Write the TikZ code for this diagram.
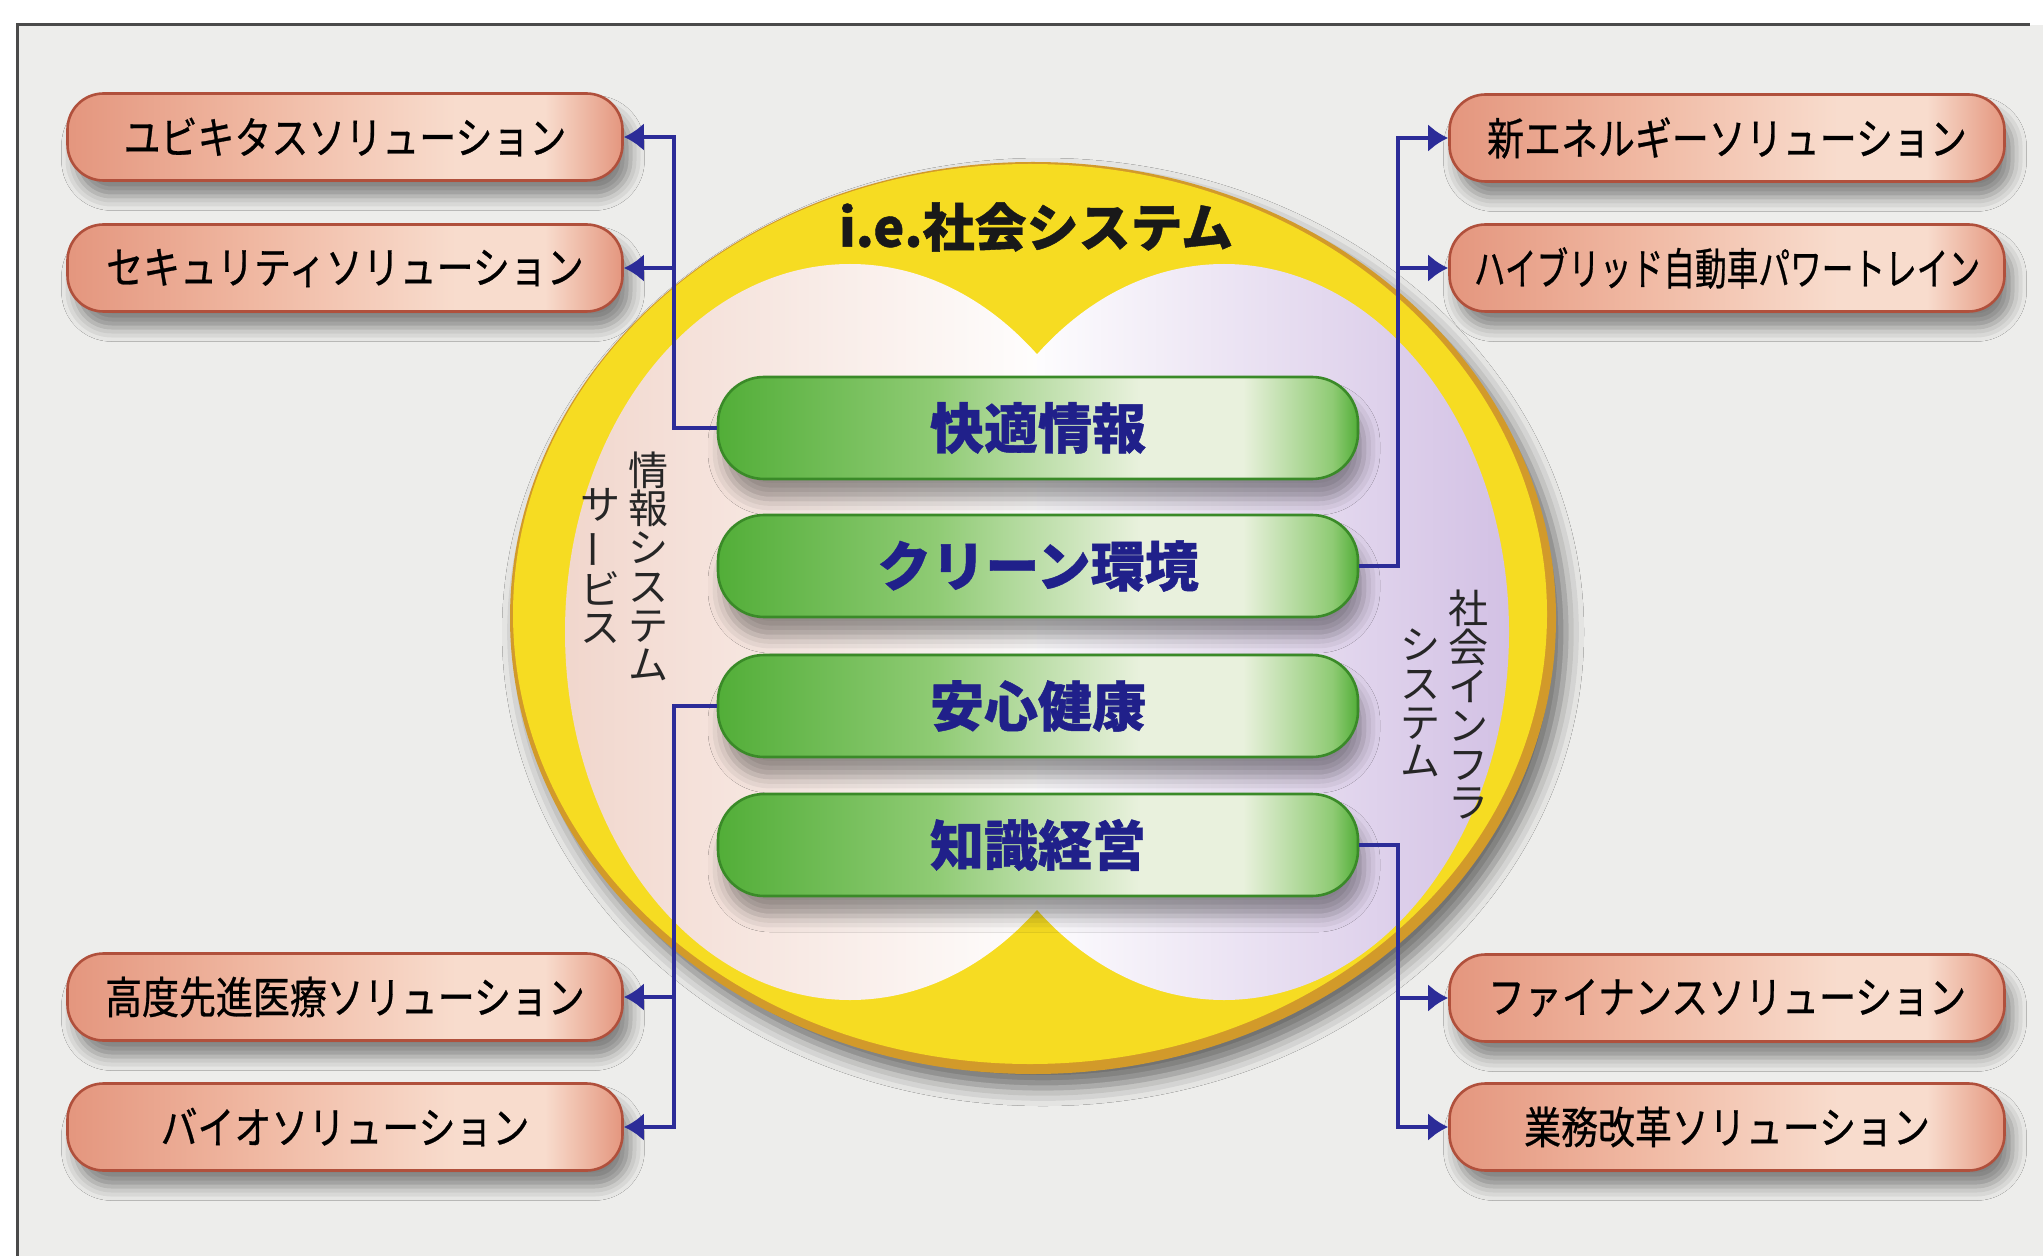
\documentclass[tikz,border=0pt]{standalone}
\usepackage{fontspec}
\usepackage{graphicx}
\newfontfamily\jp{Noto Sans CJK JP}
\newfontfamily\jph[FakeBold=0.8]{Noto Sans CJK JP}
\newfontfamily\jpc[FakeStretch=0.84,FakeBold=0.6]{Noto Sans CJK JP}
\newfontfamily\jpcc[FakeStretch=0.72,FakeBold=0.6]{Noto Sans CJK JP}
\usetikzlibrary{shadows.blur, arrows.meta}
\definecolor{bg}{HTML}{EDEDEB}
\definecolor{framec}{HTML}{4A4A4A}
\definecolor{ringY}{HTML}{F6DC22}
\definecolor{ringE}{HTML}{D29A2A}
\definecolor{lobeP}{HTML}{F1D6CC}
\definecolor{lobeL}{HTML}{D2C0E4}
\definecolor{navy}{HTML}{2C2C98}
\definecolor{navytext}{HTML}{20208A}
\definecolor{pkA}{HTML}{E4967E}
\definecolor{pkB}{HTML}{F0B8A2}
\definecolor{pkC}{HTML}{F8DCCD}
\definecolor{pkD}{HTML}{B0503C}
\definecolor{gA}{HTML}{52AE38}
\definecolor{gB}{HTML}{8FCB74}
\definecolor{gC}{HTML}{E9F1DD}
\definecolor{gD}{HTML}{3A8A28}
\pgfdeclarehorizontalshading{pinkpill}{100bp}{color(0bp)=(pkA); color(25bp)=(pkA); color(42bp)=(pkB); color(60bp)=(pkC); color(68bp)=(pkC); color(75bp)=(pkA); color(100bp)=(pkA)}
\pgfdeclarehorizontalshading{greenpill}{100bp}{color(0bp)=(gA); color(25bp)=(gA); color(42bp)=(gB); color(58bp)=(gC); color(66bp)=(gC); color(73bp)=(gB); color(75bp)=(gA); color(100bp)=(gA)}
\newcommand\vbar{\rotatebox[origin=c]{90}{ー}}
\begin{document}
\begin{tikzpicture}[x=0.5pt,y=-0.5pt,
  ppill/.style={draw=pkD, line width=1.3pt, rounded corners=18pt,
    minimum width=277.5pt, minimum height=43.5pt, inner sep=0pt,
    shade, shading=pinkpill,
    blur shadow={shadow xshift=4pt, shadow yshift=-8pt, shadow blur radius=7pt, shadow opacity=45},
    font=\jpc\fontsize{22pt}{24pt}\selectfont, text=black},
  gpill/.style={draw=gD, line width=1.3pt, rounded corners=23pt,
    minimum width=320pt, minimum height=51pt, inner sep=0pt,
    shade, shading=greenpill,
    blur shadow={shadow xshift=3pt, shadow yshift=-10pt, shadow blur radius=8pt, shadow opacity=40},
    font=\jph\bfseries\fontsize{27pt}{30pt}\selectfont, text=navytext},
  vtxt/.style={align=center, inner sep=0pt, font=\jp\fontsize{20pt}{19.4pt}\selectfont, text=black!85},
  conn/.style={draw=navy, line width=2pt, line join=miter},
  arr/.style={-{Latex[length=10pt,width=14pt]}}
]
\useasboundingbox (0,0) rectangle (2043,1256);
% background and frame
\fill[white] (0,0) rectangle (2043,1256);
\fill[bg] (17,25) rectangle (2043,1256);
\draw[framec, line width=1.5pt] (17,1256) -- (17,25) -- (2030,25);

% ring
\fill[ringE, blur shadow={shadow xshift=5pt, shadow yshift=-7pt, shadow blur radius=9pt, shadow opacity=55}]
  (1033,618) ellipse [x radius=523, y radius=456];
\fill[ringY] (1030,614) ellipse [x radius=517, y radius=450];

% inner lobes
\begin{scope}
  \clip (850,632) ellipse [x radius=285, y radius=368]
        (1224,632) ellipse [x radius=285, y radius=368];
  \shade[left color=lobeP, right color=white!96!lobeP] (560,250) rectangle (1037,1010);
  \shade[left color=white!96!lobeL, right color=lobeL] (1037,250) rectangle (1515,1010);
\end{scope}

% vertical texts
\node[vtxt] (vl1) at (648,566) {情\\報\\シ\\ス\\テ\\ム};
\node[vtxt] (vl2) at (600,566) {サ\\\vbar\\ビ\\ス};
\node[vtxt] (vr1) at (1468,705) {社\\会\\イ\\ン\\フ\\ラ};
\node[vtxt] (vr2) at (1420,703) {シ\\ス\\テ\\ム};

% title
\node[font=\jph\bfseries\fontsize{26pt}{28pt}\selectfont, text=black!90] (title) at (1036,227) {i.e.社会システム};

% green pills
\node[gpill] (g1) at (1038,428) {快適情報};
\node[gpill] (g2) at (1038,566) {クリーン環境};
\node[gpill] (g3) at (1038,706) {安心健康};
\node[gpill] (g4) at (1038,845) {知識経営};

% pink pills
\node[ppill] (p1) at (345,137) {ユビキタスソリューション};
\node[ppill] (p2) at (345,268) {セキュリティソリューション};
\node[ppill] (p3) at (345,997) {高度先進医療ソリューション};
\node[ppill] (p4) at (345,1127) {バイオソリューション};
\node[ppill] (r1) at (1727,138) {新エネルギーソリューション};
\node[ppill] (r2) at (1727,268) {\jpcc ハイブリッド自動車パワートレイン};
\node[ppill] (r3) at (1727,998) {ファイナンスソリューション};
\node[ppill] (r4) at (1727,1127) {業務改革ソリューション};

% connectors
\draw[conn, arr] (g1.west) -| ([xshift=25pt]p1.east) -- (p1.east);
\draw[conn, arr] ([xshift=25pt]p2.east) -- (p2.east);
\draw[conn, arr] (g3.west) -| ([xshift=25pt]p4.east) -- (p4.east);
\draw[conn, arr] ([xshift=25pt]p3.east) -- (p3.east);
\draw[conn, arr] (g2.east) -| ([xshift=-25pt]r1.west) -- (r1.west);
\draw[conn, arr] ([xshift=-25pt]r2.west) -- (r2.west);
\draw[conn, arr] (g4.east) -| ([xshift=-25pt]r4.west) -- (r4.west);
\draw[conn, arr] ([xshift=-25pt]r3.west) -- (r3.west);
\end{tikzpicture}
\end{document}
